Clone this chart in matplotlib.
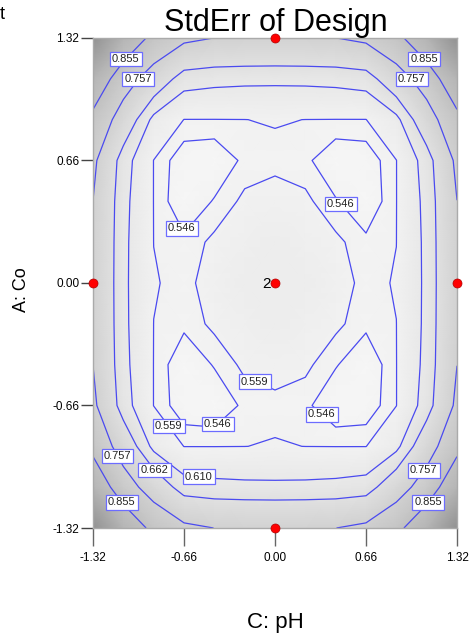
import numpy as np
import matplotlib
matplotlib.use("Agg")
import matplotlib.pyplot as plt
from matplotlib.colors import LinearSegmentedColormap

plt.rcParams['font.family'] = ['Liberation Sans', 'DejaVu Sans']

# valores (cuadrante |C|, |A| ; simetrico)
axis_vals = [0.0, 0.22, 0.44, 0.66, 0.88, 1.10, 1.32]
se_quadrant = [
    [0.590, 0.584, 0.568, 0.5535, 0.5605, 0.620, 0.753],
    [0.584, 0.578, 0.563, 0.550, 0.5588, 0.621, 0.754],
    [0.568, 0.563, 0.5475, 0.532, 0.5585, 0.624, 0.7565],
    [0.5535, 0.550, 0.532, 0.535, 0.5585, 0.632, 0.775],
    [0.5605, 0.5588, 0.5585, 0.5585, 0.595, 0.715, 0.830],
    [0.620, 0.621, 0.624, 0.632, 0.715, 0.800, 0.930],
    [0.753, 0.754, 0.7565, 0.775, 0.830, 0.930, 1.150],
]
levels = [0.546, 0.559, 0.610, 0.662, 0.757, 0.855]
ticks = [-1.32, -0.66, 0.0, 0.66, 1.32]
tick_labels = ['-1.32', '-0.66', '0.00', '0.66', '1.32']

# puntos del diseno
design_C = [0.0, 0.0, -1.32, 1.32, 0.0]
design_A = [1.32, -1.32, 0.0, 0.0, 0.0]

# posiciones de las etiquetas de contorno
label_pos = {
    0.855: [(-1.09, 1.21), (1.09, 1.21), (-1.09, -1.17), (1.09, -1.17)],
    0.757: [(-1.05, 1.13), (1.05, 1.13), (-1.14, -0.93), (1.08, -1.01)],
    0.662: [(-0.88, -1.01)],
    0.610: [(-0.55, -1.03)],
    0.559: [(-0.77, -0.77), (-0.14, -0.52)],
    0.546: [(-0.66, 0.30), (0.50, 0.44), (-0.40, -0.77), (0.30, -0.74)],
}

quad = np.array(se_quadrant)
full = np.concatenate([quad[:0:-1], quad])
full = np.concatenate([full[:, :0:-1], full], axis=1)
coords = np.concatenate([-np.array(axis_vals[:0:-1]), axis_vals])

fig = plt.figure(figsize=(4.71, 6.35), dpi=100)
ax = fig.add_axes([0.1975, 0.1685, 0.7728, 0.7717])

grays = LinearSegmentedColormap.from_list('grises', [(0.965, 0.965, 0.965), (0.57, 0.57, 0.57)])
ax.pcolormesh(coords, coords, full, shading='gouraud', cmap=grays, vmin=0.53, vmax=1.15)

for lev in levels:
    cs = ax.contour(coords, coords, full, levels=[lev], colors='#4a4af0', linewidths=0.9)
    txts = ax.clabel(cs, inline=False, fmt='%.3f', fontsize=8, colors='#222222',
                     manual=label_pos[lev])
    for t in txts:
        t.set_rotation(0)
        t.set_bbox(dict(boxstyle='square,pad=0.2', fc='white', ec='#6c6cff', lw=0.9))
        t.set_zorder(5)

ax.plot(design_C, design_A, 'o', color='red', mec='#b00000', mew=0.5, ms=6.5,
        clip_on=False, zorder=6)
ax.annotate('2', (0, 0), xytext=(-3, -0.5), textcoords='offset points',
            ha='right', va='center', fontsize=11)

ax.set_xlim(-1.32, 1.32)
ax.set_ylim(-1.32, 1.32)
ax.set_xticks(ticks)
ax.set_xticklabels(tick_labels)
ax.set_yticks(ticks)
ax.set_yticklabels(tick_labels)
ax.tick_params(axis='x', length=13, width=1, color='#666666', labelsize=8.5, pad=4)
ax.tick_params(axis='y', length=9, width=1, color='#444444', labelsize=8.5, pad=1)
for sp in ax.spines.values():
    sp.set_color('#aaaaaa')
    sp.set_linewidth(1)

fig.text(275.5 / 471, 1 - 31 / 635, 'StdErr of Design', ha='center', va='baseline', fontsize=22)
fig.text(275.5 / 471, 1 - 628 / 635, 'C: pH', ha='center', va='baseline', fontsize=16)
fig.text(21 / 471, 1 - 290 / 635, 'A: Co', ha='center', va='center', rotation=90, fontsize=13)
fig.text(0.0, 1 - 19 / 635, 't', ha='left', va='baseline', fontsize=13)

fig.savefig('out.png', dpi=100)
